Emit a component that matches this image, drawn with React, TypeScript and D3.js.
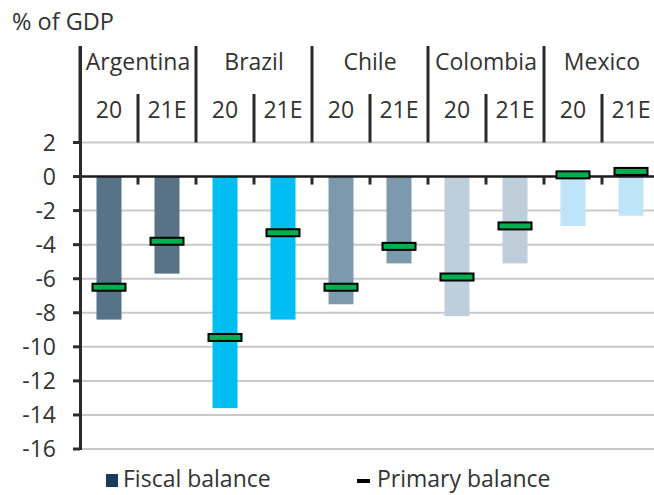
import React from "react";
import * as d3 from "d3";

const countries = ["Argentina", "Brazil", "Chile", "Colombia", "Mexico"];
const years = ["20", "21E"];
const countryColors = ["#587388", "#00BDF2", "#7D99AE", "#BFCEDB", "#BEE4F8"];
// Fiscal balance per country: [2020, 2021E]
const fiscalBalance = [
  [-8.4, -5.7],
  [-13.6, -8.4],
  [-7.5, -5.1],
  [-8.2, -5.1],
  [-2.9, -2.3],
];
// Primary balance per country: [2020, 2021E]
const primaryBalance = [
  [-6.5, -3.8],
  [-9.45, -3.3],
  [-6.5, -4.1],
  [-5.9, -2.9],
  [0.1, 0.3],
];
const yTicks = [2, 0, -2, -4, -6, -8, -10, -12, -14, -16];
const yAxisTitle = "% of GDP";
const legendLabels = ["Fiscal balance", "Primary balance"];

const W = 654;
const H = 495;
const FONT = "'Open Sans', sans-serif";
const TXT = "#333333";

export default function App() {
  const keys: string[] = [];
  countries.forEach((c) => years.forEach((y) => keys.push(c + "|" + y)));

  const x = d3.scaleBand<string>().domain(keys).range([80, 660]).padding(0);
  const xGroup = d3.scaleBand<string>().domain(countries).range([80, 660]).padding(0);
  const y = d3.scaleLinear().domain([-16, 2]).range([449, 142.5]);
  const bw = x.bandwidth();
  const barW = 25;
  const markW = 33;
  const markH = 7;

  const items = countries.flatMap((c, ci) =>
    years.map((yr, yi) => ({
      key: c + "|" + yr,
      color: countryColors[ci],
      fiscal: fiscalBalance[ci][yi],
      primary: primaryBalance[ci][yi],
      year: yr,
    }))
  );

  const topTall = 46;
  const topShort = 94;
  const headerBottom = y(2);

  return (
    <svg
      width={W}
      height={H}
      style={{ position: "absolute", left: 0, top: 0, background: "#fff" }}
      fontFamily={FONT}
    >
      <rect x={0} y={0} width={W} height={H} fill="#fff" />
      {/* title */}
      <text x={12} y={30} fontSize={23.5} fill={TXT}>
        {yAxisTitle}
      </text>

      {/* gridlines */}
      {yTicks
        .filter((t) => t !== 0)
        .map((t) => (
          <line key={"g" + t} x1={80} x2={W} y1={y(t)} y2={y(t)} stroke="#C9C9C9" strokeWidth={2} />
        ))}

      {/* bars */}
      {items.map((d) => (
        <rect
          key={"b" + d.key}
          x={(x(d.key) as number) + (bw - barW) / 2}
          y={y(Math.max(0, d.fiscal))}
          width={barW}
          height={Math.abs(y(d.fiscal) - y(0))}
          fill={d.color}
        />
      ))}

      {/* zero line */}
      <line x1={80} x2={W} y1={y(0)} y2={y(0)} stroke="#1a1a1a" strokeWidth={2.5} />

      {/* ticks under zero line at band boundaries */}
      {keys.slice(1).map((k) => (
        <line
          key={"zt" + k}
          x1={x(k) as number}
          x2={x(k) as number}
          y1={y(0)}
          y2={y(0) + 8}
          stroke="#2b2b2b"
          strokeWidth={3}
        />
      ))}

      {/* header dividers */}
      {countries.map((c) => (
        <line
          key={"tall" + c}
          x1={xGroup(c) as number}
          x2={xGroup(c) as number}
          y1={topTall}
          y2={headerBottom}
          stroke="#2b2b2b"
          strokeWidth={3}
        />
      ))}
      {countries.map((c) => (
        <line
          key={"short" + c}
          x1={x(c + "|" + years[1]) as number}
          x2={x(c + "|" + years[1]) as number}
          y1={topShort}
          y2={headerBottom}
          stroke="#2b2b2b"
          strokeWidth={3}
        />
      ))}

      {/* header labels */}
      {countries.map((c) => (
        <text
          key={"cl" + c}
          x={(xGroup(c) as number) + xGroup.bandwidth() / 2}
          y={70}
          fontSize={23}
          fill={TXT}
          textAnchor="middle"
        >
          {c}
        </text>
      ))}
      {items.map((d) => (
        <text
          key={"yl" + d.key}
          x={(x(d.key) as number) + bw / 2}
          y={118}
          fontSize={23}
          fill={TXT}
          textAnchor="middle"
        >
          {d.year}
        </text>
      ))}

      {/* left axis */}
      <line x1={80.5} x2={80.5} y1={topTall} y2={y(-16) + 1} stroke="#2b2b2b" strokeWidth={3} />
      {yTicks.map((t) => (
        <g key={"yt" + t}>
          <line x1={73} x2={80} y1={y(t)} y2={y(t)} stroke="#2b2b2b" strokeWidth={3} />
          <text x={56} y={y(t)} dy="0.36em" fontSize={23} fill={TXT} textAnchor="end">
            {t}
          </text>
        </g>
      ))}

      {/* primary balance markers */}
      {items.map((d) => (
        <rect
          key={"m" + d.key}
          x={(x(d.key) as number) + (bw - markW) / 2}
          y={y(d.primary) - markH / 2}
          width={markW}
          height={markH}
          fill="#00B050"
          stroke="#000"
          strokeWidth={2}
        />
      ))}

      {/* legend */}
      <rect x={106} y={474} width={12} height={13} fill="#1B3A5C" />
      <text x={123} y={487} fontSize={23} fill={TXT}>
        {legendLabels[0]}
      </text>
      <rect x={357} y={479} width={13} height={4} fill="#000" />
      <text x={377} y={487} fontSize={23} fill={TXT}>
        {legendLabels[1]}
      </text>
    </svg>
  );
}
